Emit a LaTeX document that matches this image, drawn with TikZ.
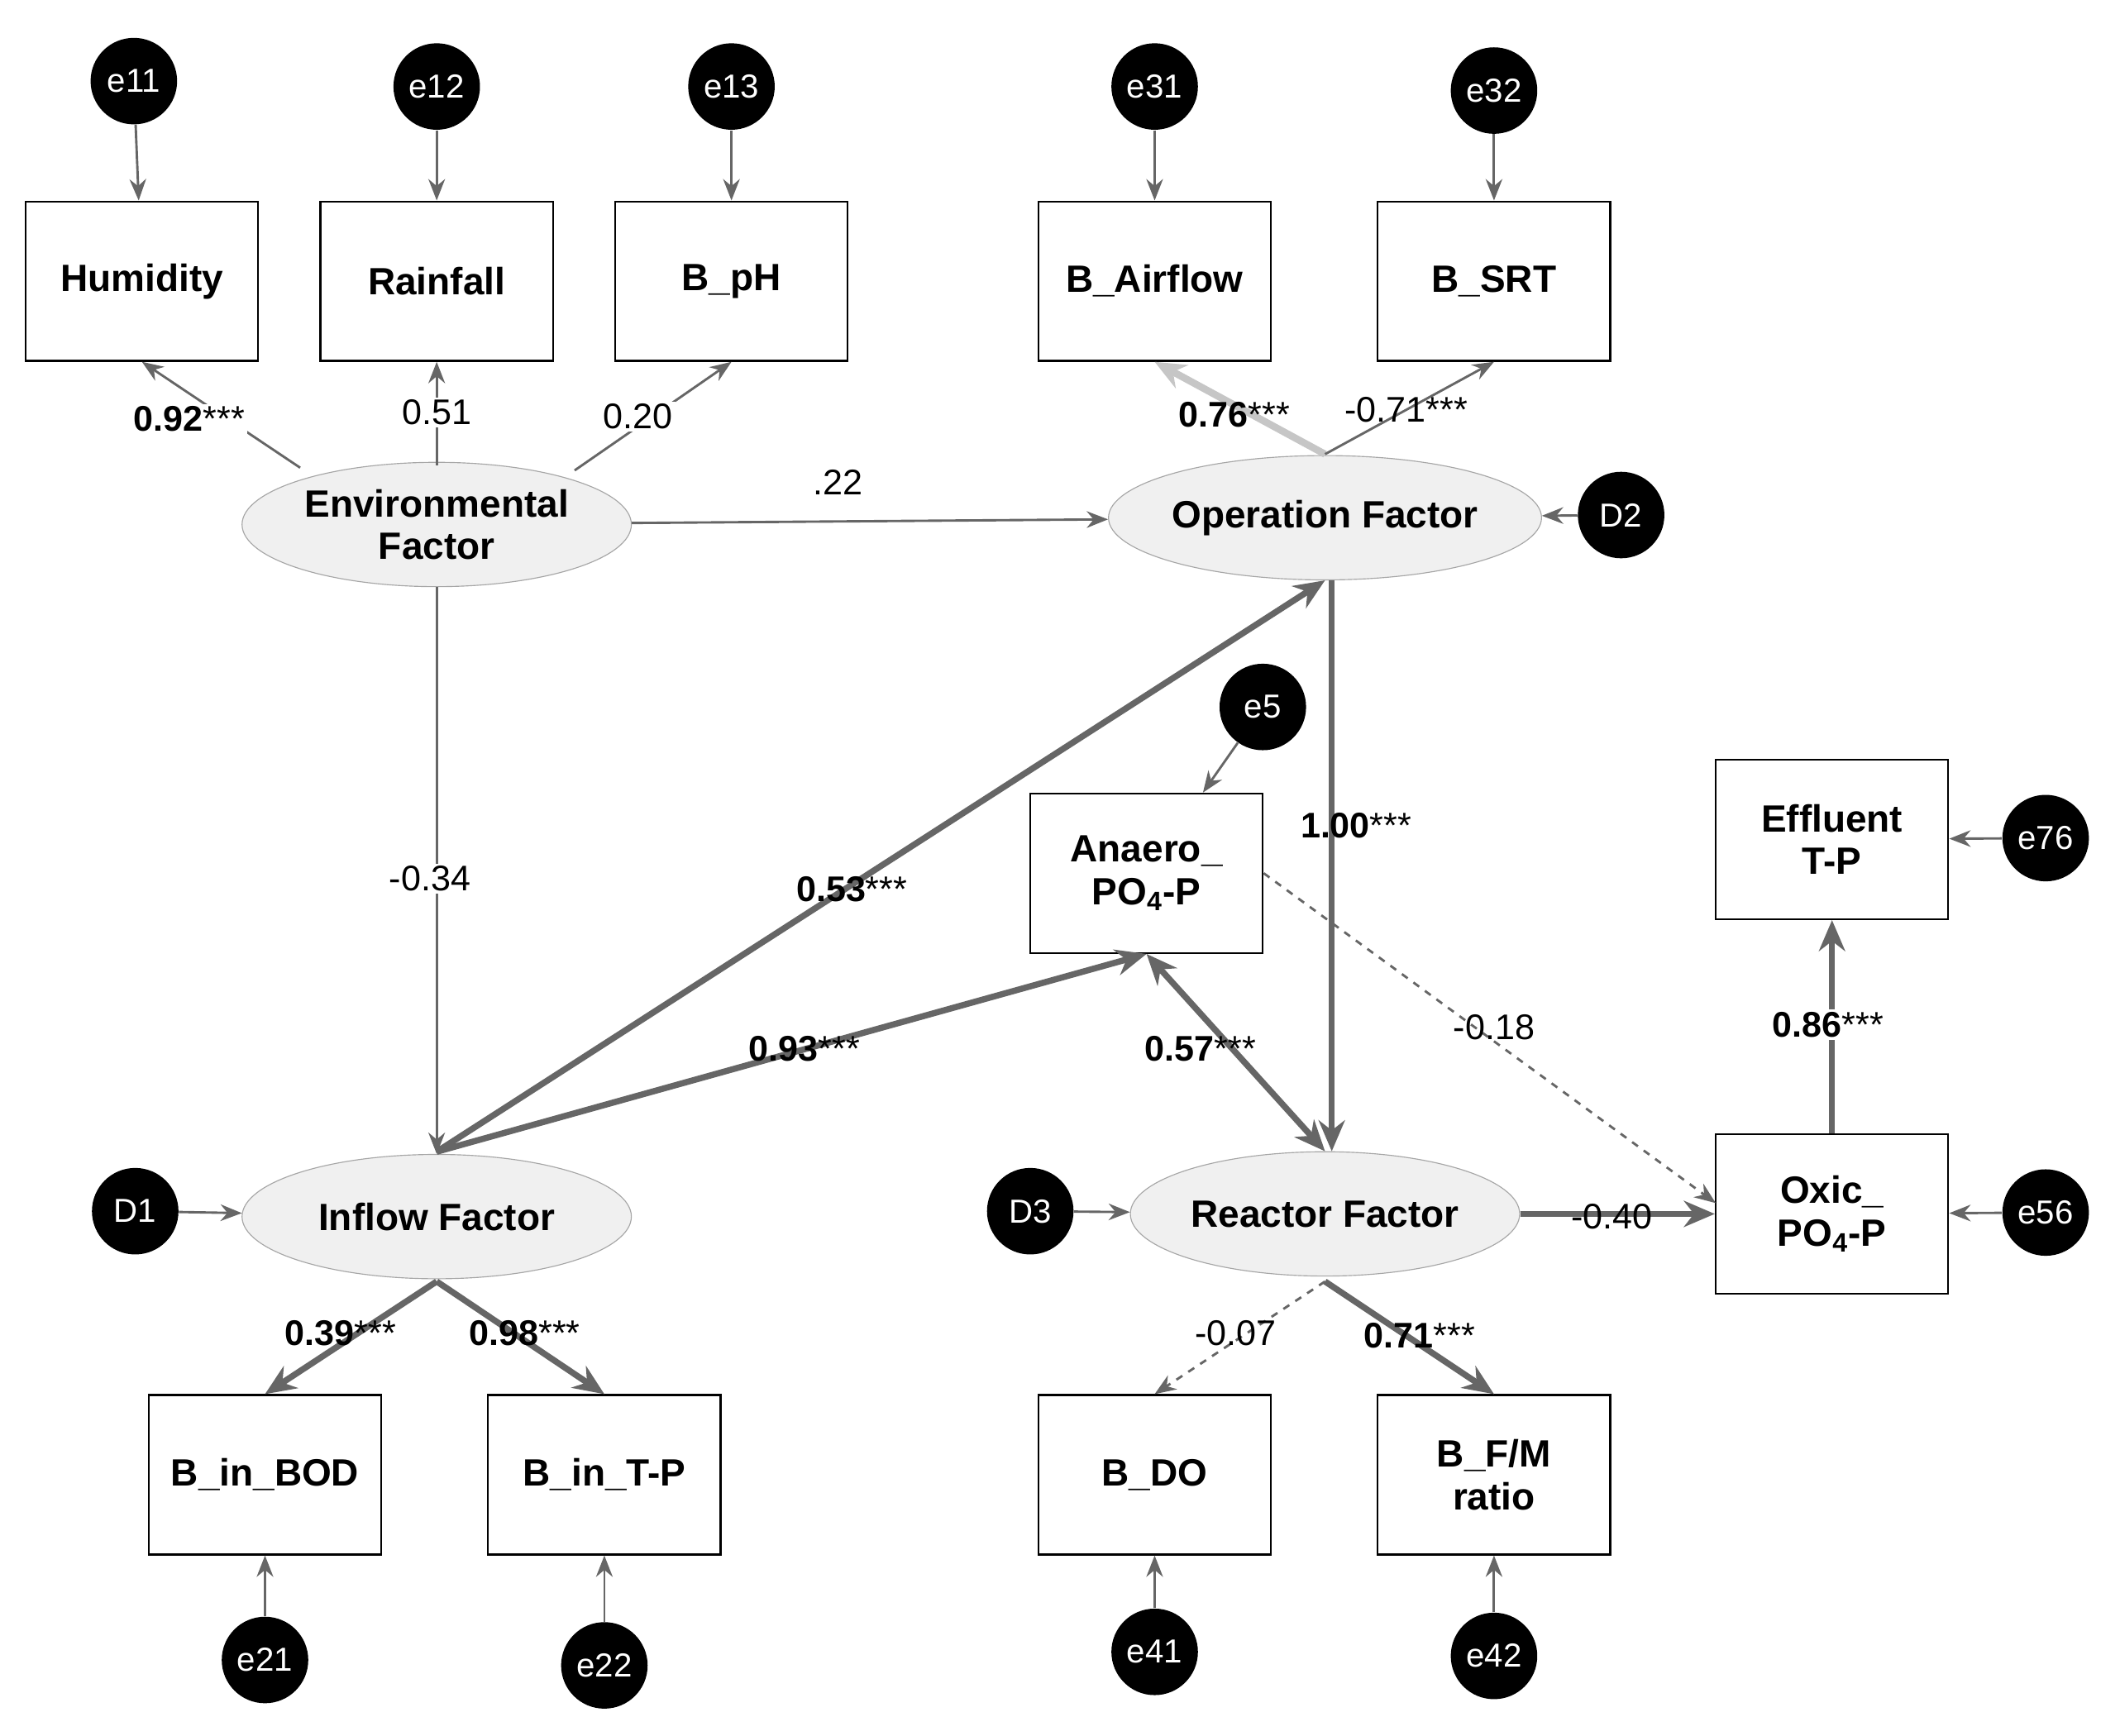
\documentclass[tikz,border=0pt]{standalone}
\usepackage{fontspec}
\setmainfont{Liberation Sans}
\usetikzlibrary{arrows.meta,shapes.geometric}
\begin{document}
\begin{tikzpicture}[x=0.02cm,y=-0.02cm,
  box/.style={draw=black,line width=0.8pt,minimum width=3.44cm,minimum height=2.36cm,align=center,font=\fontsize{16}{18}\selectfont\bfseries,inner sep=0pt},
  lat/.style={draw=gray!70,fill=gray!12,ellipse,minimum width=5.76cm,minimum height=1.84cm,align=center,font=\fontsize{16}{18}\selectfont\bfseries,inner sep=0pt},
  err/.style={circle,fill=black,minimum size=1.28cm,inner sep=0pt,text=white,font=\fontsize{14}{16}\selectfont},
  thin/.style={draw=black!60,line width=1pt,-{Stealth[length=9pt,width=7pt]}},
  thick/.style={draw=black!60,line width=2.6pt,-{Stealth[length=13pt,width=11pt]}},
  lab/.style={font=\fontsize{15}{17}\selectfont,fill=white,inner sep=1pt}]
\useasboundingbox (0,0) rectangle (1568,1284);
\node[box] (hum) at (105,208) {Humidity};
\node[box] (rain) at (323,208) {Rainfall};
\node[box] (ph) at (541,208) {B\_pH};
\node[box] (air) at (854,208) {B\_Airflow};
\node[box] (srt) at (1105,208) {B\_SRT};
\node[err] (e11) at (99,60) {e11};
\node[err] (e12) at (323,64) {e12};
\node[err] (e13) at (541,64) {e13};
\node[err] (e31) at (854,64) {e31};
\node[err] (e32) at (1105,67) {e32};
\node[lat] (env) at (323,388) {Environmental\\Factor};
\node[lat] (op) at (980,383) {Operation Factor};
\node[lat] (inf) at (323,900) {Inflow Factor};
\node[lat] (rea) at (980,898) {Reactor Factor};
\node[err] (D2) at (1199,381) {D2};
\node[err] (D1) at (100,896) {D1};
\node[err] (D3) at (762,896) {D3};
\node[err] (e5) at (934,523) {e5};
\node[box] (ana) at (848,646) {Anaero\_\\PO\textsubscript{4}-P};
\node[box] (eff) at (1355,621) {Effluent\\T-P};
\node[err] (e76) at (1513,620) {e76};
\node[box] (oxi) at (1355,898) {Oxic\_\\PO\textsubscript{4}-P};
\node[err] (e56) at (1513,897) {e56};
\node[box] (bod) at (196,1091) {B\_in\_BOD};
\node[box] (itp) at (447,1091) {B\_in\_T-P};
\node[box] (do) at (854,1091) {B\_DO};
\node[box] (fm) at (1105,1091) {B\_F/M\\ratio};
\node[err] (e21) at (196,1228) {e21};
\node[err] (e22) at (447,1232) {e22};
\node[err] (e41) at (854,1222) {e41};
\node[err] (e42) at (1105,1225) {e42};
% error arrows
\foreach \a/\b in {e11/hum,e12/rain,e13/ph,e31/air,e32/srt,e21/bod,e22/itp,e41/do,e42/fm,D1/inf,D2/op,D3/rea,e76/eff,e56/oxi,e5/ana}
  \draw[thin] (\a) -- (\b);
% loadings
\coordinate (envt) at (323,344);
\draw[thin] (222,346) -- (hum.south);
\draw[thin] (envt) -- (rain);
\draw[thin] (425,348) -- (ph.south);
\node[lab] at (140,310) {\textbf{0.92}***};
\node[lab] at (323,305) {0.51};
\node[lab] at (472,308) {0.20};
\coordinate (opt) at (980,336);
\draw[draw=gray!45,line width=3pt,-{Stealth[length=13pt,width=11pt]}] (opt) -- (air.south);
\draw[thin] (opt) -- (srt.south);
\node[lab,fill=none] at (913,307) {\textbf{0.76}***};
\node[lab,fill=none] at (1040,303) {-0.71***};
\draw[thin] (env) -- (op);
\node[lab,fill=none] at (620,357) {.22};
\draw[thin] (env) -- (inf);
\node[lab] at (318,650) {-0.34};
\coordinate (inft) at (323,852);
\draw[thick] (inft) -- (op.south);
\draw[thick] (inft) -- (ana.south);
\node[lab,fill=none] at (630,658) {\textbf{0.53}***};
\node[lab,fill=none] at (595,776) {\textbf{0.93}***};
\draw[thick,{Stealth[length=13pt,width=11pt]}-{Stealth[length=13pt,width=11pt]}] (ana.south) -- (rea.north);
\node[lab,fill=none] at (888,776) {\textbf{0.57}***};
\draw[thick] ([xshift=0.1cm]op.south) -- ([xshift=0.1cm]rea.north);
\node[lab,fill=none] at (1003,611) {\textbf{1.00}***};
\draw[thin,dashed] (ana.east) -- (1269,890);
\node[lab,fill=none] at (1105,760) {-0.18};
\draw[thick] (rea) -- (oxi);
\node[lab,fill=none] at (1192,900) {-0.40};
\draw[thick] (oxi) -- (eff);
\node[lab] at (1352,758) {\textbf{0.86}***};
\coordinate (infb) at (323,948);
\draw[thick] (infb) -- (bod.north);
\draw[thick] (infb) -- (itp.north);
\node[lab,fill=none] at (252,986) {\textbf{0.39}***};
\node[lab,fill=none] at (388,986) {\textbf{0.98}***};
\coordinate (reab) at (980,948);
\draw[thin,dashed] (reab) -- (do.north);
\draw[thick] (reab) -- (fm.north);
\node[lab,fill=none] at (914,986) {-0.07};
\node[lab,fill=none] at (1050,988) {\textbf{0.71}***};
\end{tikzpicture}
\end{document}
